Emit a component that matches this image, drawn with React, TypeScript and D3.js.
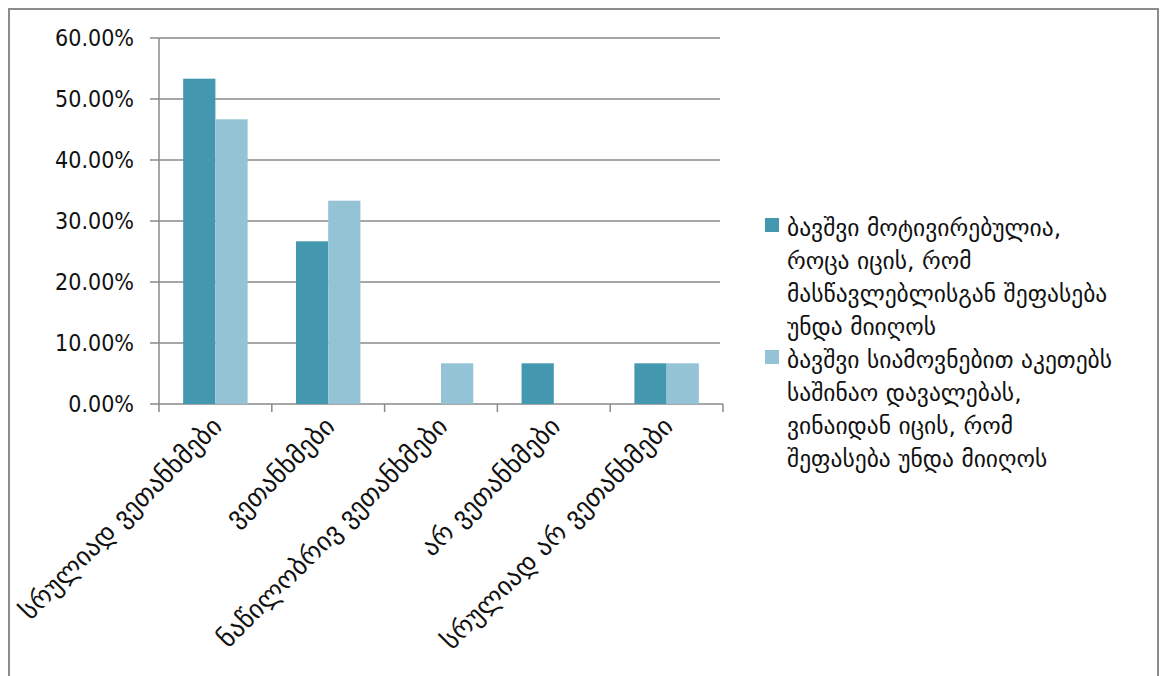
import React from "react";
import * as d3 from "d3";

const categories = [
  "სრულიად ვეთანხმები",
  "ვეთანხმები",
  "ნაწილობრივ ვეთანხმები",
  "არ ვეთანხმები",
  "სრულიად არ ვეთანხმები",
];
const seriesNames = [
  ["ბავშვი მოტივირებულია,", "როცა იცის, რომ", "მასწავლებლისგან შეფასება", "უნდა მიიღოს"],
  ["ბავშვი სიამოვნებით აკეთებს", "საშინაო დავალებას,", "ვინაიდან იცის, რომ", "შეფასება უნდა მიიღოს"],
];
const series1 = [0.5333, 0.2667, 0, 0.0667, 0.0667];
const series2 = [0.4667, 0.3333, 0.0667, 0, 0.0667];
const yTicks = [0, 0.1, 0.2, 0.3, 0.4, 0.5, 0.6];
const colors = ["#4398B0", "#93C3D5"];

export default function App() {
  const left = 159, right = 723, top = 38, bottom = 404;
  const x = d3.scaleBand<string>().domain(categories).range([left, right]);
  const bw = x.bandwidth() / 3.5;
  const y = d3.scaleLinear().domain([0, 0.6]).range([bottom, top]);
  const fmt = (v: number) => (v * 100).toFixed(2) + "%";
  const font = "'DejaVu Sans', sans-serif";
  const allSeries = [series1, series2];
  return (
    <svg width={1161} height={676} style={{ position: "absolute", left: 0, top: 0 }} fontFamily={font}>
      <rect x={0} y={0} width={1161} height={676} fill="#fff" />
      <rect x={9} y={9} width={1149} height={700} fill="none" stroke="#8c8c8c" strokeWidth={2} />
      {yTicks.map((t) => (
        <g key={t}>
          <line x1={150} x2={t === 0 ? right : 720} y1={y(t)} y2={y(t)} stroke="#8a8a8a" strokeWidth={1.5} />
          <text x={134} y={y(t)} dy="0.36em" textAnchor="end" fontSize={23} fill="#111" fontFamily="'DejaVu Sans Condensed', 'DejaVu Sans', sans-serif">
            {fmt(t)}
          </text>
        </g>
      ))}
      <line x1={left} x2={left} y1={top} y2={bottom} stroke="#8a8a8a" strokeWidth={1.5} />
      {categories.map((c, i) => (
        <line key={"t" + i} x1={(x(c) as number) + x.bandwidth()} x2={(x(c) as number) + x.bandwidth()} y1={bottom} y2={bottom + 8} stroke="#8a8a8a" strokeWidth={1.5} />
      ))}
      <line x1={left} x2={left} y1={bottom} y2={bottom + 8} stroke="#8a8a8a" strokeWidth={1.5} />
      {allSeries.map((s, si) =>
        s.map((v, i) => (
          <rect
            key={si + "-" + i}
            x={(x(categories[i]) as number) + x.bandwidth() / 2 - bw + si * bw}
            y={y(v)}
            width={bw}
            height={bottom - y(v)}
            fill={colors[si]}
          />
        ))
      )}
      {categories.map((c, i) => {
        const cx = (x(c) as number) + x.bandwidth() / 2 + 8;
        const cy = bottom + 24;
        return (
          <text key={"l" + i} transform={`translate(${cx},${cy}) rotate(-45)`} textAnchor="end" fontSize={26} fill="#111">
            {c}
          </text>
        );
      })}
      {seriesNames.map((lines, si) => {
        const y0 = 236 + si * 132;
        return (
          <g key={"lg" + si}>
            <rect x={765} y={y0 - 18} width={14} height={14} fill={colors[si]} />
            {lines.map((ln, li) => (
              <text key={li} x={787} y={y0 + li * 33} dy="0" fontSize={23.5} fill="#111">
                {ln}
              </text>
            ))}
          </g>
        );
      })}
    </svg>
  );
}
